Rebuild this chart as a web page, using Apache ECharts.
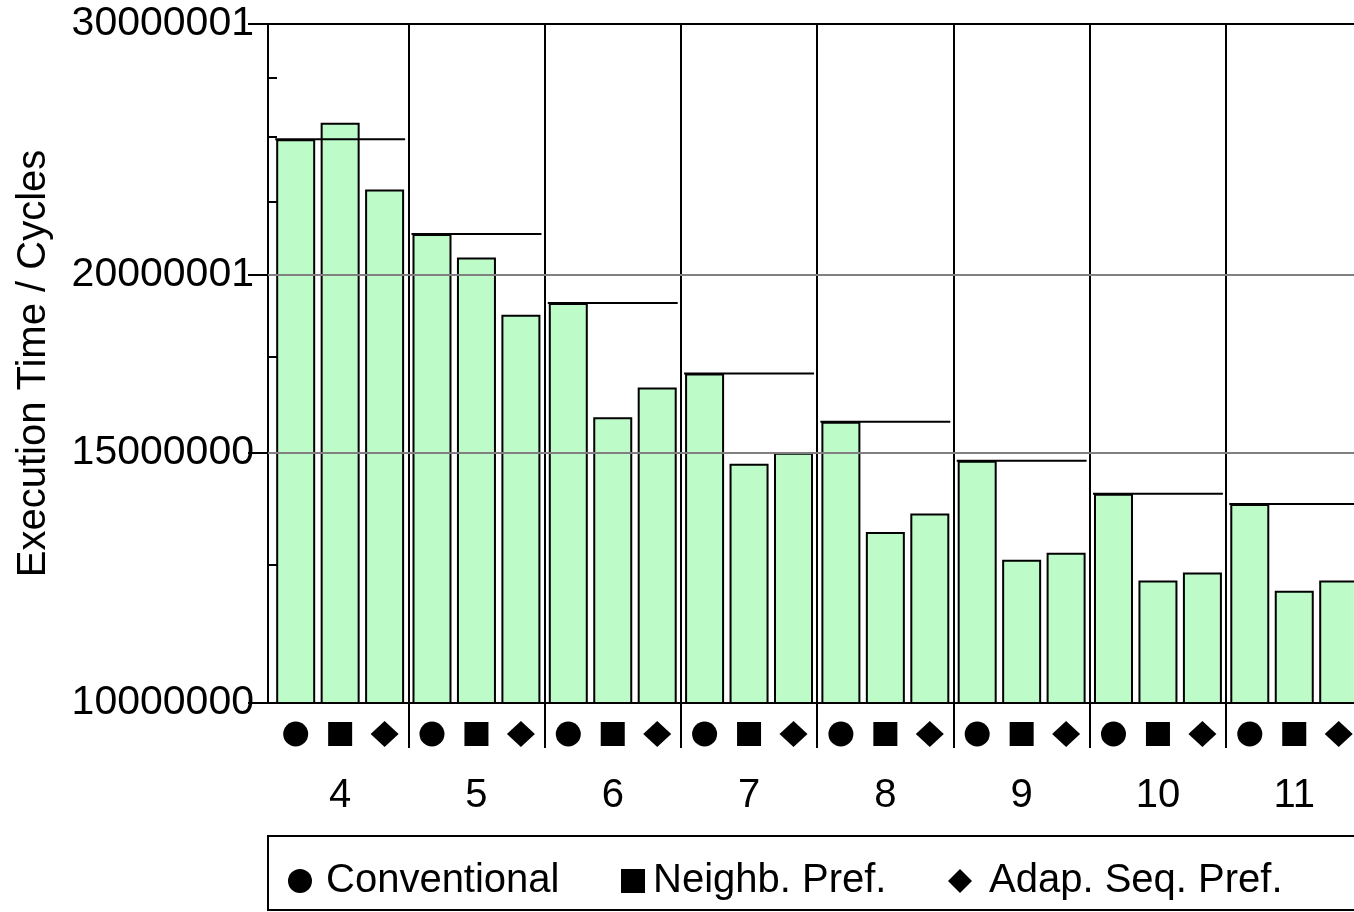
<!DOCTYPE html>
<html>
<head>
<meta charset="utf-8">
<script src="https://cdn.jsdelivr.net/npm/echarts@6/dist/echarts.min.js"></script>
<style>
  html, body { margin: 0; padding: 0; background: #ffffff; }
  #chart { width: 1354px; height: 912px; }
</style>
</head>
<body>
<div id="chart"></div>
<script>
// Problem sizes along the x axis
const categories = ['4', '5', '6', '7', '8', '9', '10', '11'];

// Execution time in cycles for each variant
const conventional = [24900000, 21360000, 19100000, 17040000, 15760000, 14800000, 14030000, 13800000];
const neighbPref   = [25570000, 20560000, 15880000, 14730000, 13190000, 12610000, 12190000, 11990000];
const adapSeqPref  = [22950000, 18740000, 16660000, 14990000, 13590000, 12750000, 12350000, 12190000];

// Y axis tick values (log scale)
const yTickValues = [10000000, 15000000, 20000001, 30000001];
const yMinorTickValues = [12500000, 17500000, 22500000, 25000000, 27500000];
const yGridValues = [15000000, 20000001];

const seriesNames = ['Conventional', 'Neighb. Pref.', 'Adap. Seq. Pref.'];
const seriesSymbols = ['circle', 'rect', 'diamond'];

const FONT = "'Liberation Sans', Arial, sans-serif";
const FS = 40;
const BAR_W = 39;
const BAR_GAP = 0.14;
const BAR_STEP = BAR_W * (1 + BAR_GAP);
const BAR_FILL = '#bdfbc9';
const Y_MIN = yTickValues[0];
const Y_MAX = yTickValues[yTickValues.length - 1];

// Plot frame and the band area the groups occupy inside it (runs past the right edge)
const FRAME = { left: 268, top: 24, width: 1098.4, height: 679, outerBoundsMode: 'none' };
const BANDS = { left: 272, top: 24, width: 1090.4, height: 679, outerBoundsMode: 'none' };

const chart = echarts.init(document.getElementById('chart'), null, { renderer: 'canvas' });

const valueFmt = v => String(Math.round(v));
const skipFirst = index => index > 0;

const frameX = (gridIndex, position) => ({
  type: 'value', gridIndex, position, min: 0, max: 1,
  axisLine: { show: true, lineStyle: { color: '#000', width: 2 } },
  axisTick: { show: false }, axisLabel: { show: false }, splitLine: { show: false }
});

const logY = (gridIndex, position, tickValues, tickLen, withLabels) => ({
  type: 'log', gridIndex, position, min: Y_MIN, max: Y_MAX, logBase: 10,
  axisLine: { show: tickLen === 20, lineStyle: { color: '#000', width: 2 } },
  axisTick: { show: true, inside: true, length: tickLen, customValues: tickValues,
              lineStyle: { color: '#000', width: 2 } },
  axisLabel: withLabels ? { show: true, customValues: tickValues, formatter: valueFmt,
              fontSize: 41, fontFamily: FONT, color: '#000', margin: 14 } : { show: false },
  splitLine: { show: false }
});

const barSeries = [conventional, neighbPref, adapSeqPref].map((vals, i) => ({
  type: 'bar', name: seriesNames[i], xAxisIndex: 2, yAxisIndex: 2,
  data: vals, barWidth: BAR_W, barGap: (BAR_GAP * 100) + '%',
  itemStyle: { color: BAR_FILL, borderColor: '#000', borderWidth: 2 },
  z: 2, silent: true
}));

const symbolSeries = seriesSymbols.map((sym, i) => ({
  type: 'scatter', name: seriesNames[i], xAxisIndex: 3, yAxisIndex: 3,
  data: categories.map(c => [c, 0]),
  symbol: sym,
  symbolSize: sym === 'diamond' ? [28, 26] : (sym === 'rect' ? 24 : 25),
  symbolOffset: [(i - 1) * BAR_STEP, 0],
  itemStyle: { color: '#000', opacity: 1 },
  z: 2, silent: true
}));

// One legend per entry so each can sit at its own spot in the box
const legendSpots = [
  { left: 288, pad: 9 },
  { left: 621, pad: 3 },
  { left: 948, pad: 12 }
];

const option = {
  animation: false,
  backgroundColor: '#ffffff',
  textStyle: { fontFamily: FONT },
  grid: [
    Object.assign({}, FRAME),                          // frame + major ticks
    Object.assign({}, BANDS),                          // bars
    { left: BANDS.left, width: BANDS.width, top: 722, height: 24, outerBoundsMode: 'none' }, // symbol row
    Object.assign({}, FRAME)                           // minor ticks
  ],
  xAxis: [
    frameX(0, 'bottom'),
    frameX(0, 'top'),
    {
      type: 'category', gridIndex: 1, data: categories, boundaryGap: true,
      axisLine: { show: false },
      axisTick: { show: true, length: 45, interval: skipFirst,
                  lineStyle: { color: '#000', width: 2 } },
      axisLabel: { show: true, fontSize: FS, fontFamily: FONT, color: '#000', margin: 73 },
      splitLine: { show: true, interval: skipFirst, lineStyle: { color: '#000', width: 2 } }
    },
    { type: 'category', gridIndex: 2, data: categories, show: false },
    { type: 'value', gridIndex: 3, min: 0, max: 1, show: false }
  ],
  yAxis: [
    Object.assign(logY(0, 'left', yTickValues, 20, true), {
      name: 'Execution Time / Cycles', nameLocation: 'middle', nameGap: 214,
      nameTextStyle: { fontSize: FS, fontFamily: FONT, color: '#000' }
    }),
    logY(0, 'right', yTickValues, 20, false),
    { type: 'log', gridIndex: 1, min: Y_MIN, max: Y_MAX, logBase: 10, show: false },
    { type: 'value', gridIndex: 2, min: -1, max: 1, show: false },
    logY(3, 'left', yMinorTickValues, 9, false),
    logY(3, 'right', yMinorTickValues, 9, false)
  ],
  legend: legendSpots.map((s, i) => ({
    data: [seriesNames[i]], left: s.left, top: 861,
    itemWidth: 24, itemHeight: 24, selectedMode: false, padding: 0,
    textStyle: { fontSize: FS, fontFamily: FONT, color: '#000', padding: [0, 0, 0, s.pad] }
  })),
  graphic: [
    { type: 'rect', shape: { x: 268, y: 836, width: 1110, height: 74 },
      style: { fill: 'none', stroke: '#000', lineWidth: 2 }, silent: true }
  ],
  series: [
    ...symbolSeries,
    {
      type: 'line', name: 'grid', xAxisIndex: 0, yAxisIndex: 0, data: [], z: 1, silent: true,
      markLine: {
        silent: true, symbol: 'none', label: { show: false },
        lineStyle: { color: '#808080', type: 'solid', width: 2 },
        data: yGridValues.map(v => ({ yAxis: v }))
      }
    },
    ...barSeries,
    {
      // Per-group reference line at the conventional time
      type: 'custom', name: 'reference', xAxisIndex: 2, yAxisIndex: 2, z: 3, silent: true,
      data: conventional.map((v, i) => [i, v]),
      renderItem(params, api) {
        const p = api.coord([api.value(0), api.value(1)]);
        const half = BAR_STEP + BAR_W / 2 + 1;
        return {
          type: 'line',
          shape: { x1: p[0] - half, y1: p[1], x2: p[0] + half, y2: p[1] },
          style: { stroke: '#000', lineWidth: 2 }
        };
      }
    }
  ]
};

chart.setOption(option);
</script>
</body>
</html>
